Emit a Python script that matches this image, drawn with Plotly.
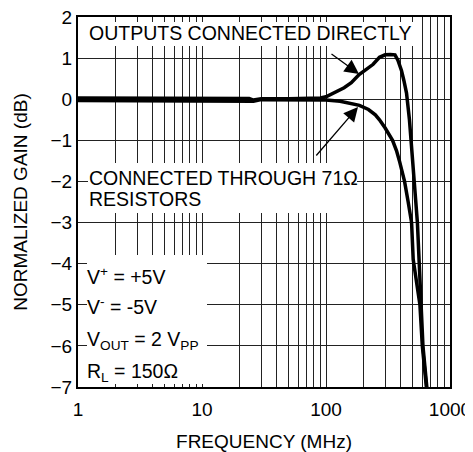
import plotly.graph_objects as go

# --- data ---
freq_direct = [1, 2, 5, 10, 20, 24, 26, 30, 50, 80, 90, 100, 110, 125, 140, 160, 185, 210, 240,
               270, 300, 330, 360, 380, 406, 425, 446, 471, 498, 517, 546, 565, 580, 605, 650, 665]
gain_direct = [0.03, 0.03, 0.03, 0.03, 0.03, 0.02, -0.02, 0.01, 0.01, 0.01, 0.03, 0.06, 0.12, 0.2,
               0.28, 0.4, 0.6, 0.72, 0.85, 1.02, 1.08, 1.09, 1.08, 0.95, 0.7, 0.45, 0.15, -0.5,
               -1.4, -2.0, -3.0, -4.0, -5.0, -6.0, -7.0, -7.3]

freq_resist = [1, 2, 5, 10, 20, 24, 26, 30, 50, 80, 100, 130, 160, 186, 220, 250, 270, 300, 344,
               370, 391, 430, 460, 490, 505, 550, 572, 598, 642, 660]
gain_resist = [-0.03, -0.03, -0.03, -0.03, -0.03, -0.03, -0.05, -0.01, -0.01, -0.01, -0.02, -0.05,
               -0.1, -0.15, -0.25, -0.38, -0.5, -0.7, -1.0, -1.25, -1.5, -2.0, -2.5, -3.0, -3.9,
               -4.6, -5.0, -6.0, -7.0, -7.3]

x_tickvals = [1, 10, 100, 1000]
x_ticktext = ["1", "10", "100", "1000"]
x_minor = [m * d for d in (1, 10, 100) for m in range(2, 10)]
y_tickvals = [2, 1, 0, -1, -2, -3, -4, -5, -6, -7]

FONT = "Liberation Sans, Arial, sans-serif"
FS = 19
FS_ANN = 19.5

fig = go.Figure()
fig.add_trace(go.Scatter(x=freq_direct, y=gain_direct, mode="lines",
                         line=dict(color="black", width=3.5), showlegend=False))
fig.add_trace(go.Scatter(x=freq_resist, y=gain_resist, mode="lines",
                         line=dict(color="black", width=3.5), showlegend=False))

# page pixel -> paper fraction (plot area 78..450 x 17..387 on the page)
W, H = 372.0, 370.0
def px(x):
    return (x - 78) / W
def py(y):
    return (387 - y) / H

# white boxes behind the labels (they hide the grid; no curve passes there)
for (x0, y0, x1, y1) in [(87, 22, 413, 46), (88, 163, 357, 213), (87, 255, 207, 384)]:
    fig.add_shape(type="rect", xref="paper", yref="paper",
                  x0=px(x0), x1=px(x1), y0=py(y1), y1=py(y0),
                  fillcolor="white", line=dict(width=0), layer="above")

ann = []
def txt(t, x, y, xanchor="center"):
    ann.append(dict(text=t, x=px(x), y=py(y), xref="paper", yref="paper",
                    xanchor=xanchor, yanchor="middle", showarrow=False,
                    font=dict(family=FONT, size=FS_ANN, color="black")))

txt("OUTPUTS CONNECTED DIRECTLY", 250, 33)
txt("CONNECTED THROUGH 71Ω", 87, 177.5, "left")
txt("RESISTORS", 87, 199.5, "left")
txt("V<sup>+</sup> = +5V", 85, 276, "left")
txt("V<sup>-</sup> = -5V", 85, 306, "left")
txt("V<sub>OUT</sub> = 2 V<sub>PP</sub>", 85, 340, "left")
txt("R<sub>L</sub> = 150Ω", 85, 372, "left")

# arrows
for (hx, hy, tx, ty) in [(359, 74, 330, 53), (358, 107, 315, 157)]:
    ann.append(dict(text="", x=px(hx), y=py(hy), xref="paper", yref="paper",
                    ax=tx - hx, ay=ty - hy, axref="pixel", ayref="pixel",
                    showarrow=True, arrowhead=2, arrowsize=2.2, arrowwidth=1.3,
                    arrowcolor="black"))

# the page body has an 8px margin, so the figure is offset by 8px
fig.update_layout(
    width=465, height=444,
    margin=dict(l=70, r=23, t=9, b=65, autoexpand=False),
    paper_bgcolor="white", plot_bgcolor="white",
    font=dict(family=FONT, size=FS, color="black"),
    annotations=ann,
)
fig.update_xaxes(
    type="log", range=[0, 3], tickvals=x_tickvals, ticktext=x_ticktext,
    showgrid=True, gridcolor="#222", gridwidth=1.2,
    minor=dict(tickvals=x_minor, showgrid=True, gridcolor="#222", gridwidth=1.2),
    showline=True, linecolor="black", linewidth=2, mirror=True,
    ticks="", ticklabelstandoff=4, ticklabeloverflow="allow",
    tickfont=dict(family=FONT, size=FS, color="black"),
    title=dict(text="FREQUENCY (MHz)", font=dict(family=FONT, size=FS, color="black"), standoff=16),
    zeroline=False, automargin=False,
)
fig.update_yaxes(
    range=[-7, 2], tickvals=y_tickvals,
    showgrid=True, gridcolor="#222", gridwidth=1.2,
    showline=True, linecolor="black", linewidth=2, mirror=True,
    ticks="", ticklabelstandoff=0, ticklabeloverflow="allow",
    tickfont=dict(family=FONT, size=FS, color="black"),
    title=dict(text="NORMALIZED GAIN (dB)", font=dict(family=FONT, size=FS, color="black"), standoff=18),
    zeroline=False, automargin=False,
)

fig.write_html("out.html")
